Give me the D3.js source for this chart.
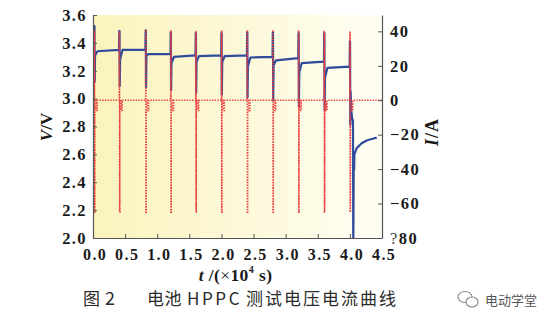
<!DOCTYPE html>
<html><head><meta charset="utf-8">
<script src="https://cdn.jsdelivr.net/npm/d3@7"></script>
<style>
html,body{margin:0;padding:0;background:#fff;}
svg{display:block;}
</style></head>
<body>
<svg id="chart" width="554" height="324"></svg>
<script>
// ---- data ----
const xTicks = [0.0,0.5,1.0,1.5,2.0,2.5,3.0,3.5,4.0,4.5];
const vTicks = [2.0,2.2,2.4,2.6,2.8,3.0,3.2,3.4,3.6];
const iTicks = [40,20,0,-20,-40,-60,-80];
const iTickLabels = ["40","20","0","\u221220","\u221240","\u221260","?80"];

// HPPC pulse times (x10^4 s)
const pulseTimes = [0.02,0.41,0.82,1.21,1.60,2.00,2.40,2.80,3.20,3.60,4.00];
// voltage at each pulse
const vPeak   = [3.52,3.485,3.49,3.475,3.47,3.47,3.475,3.475,3.47,3.47,3.41];
const vTrough = [3.12,3.09,3.08,3.06,3.04,3.03,3.01,2.99,2.94,2.92,2.81];
const vDip    = [3.31,3.28,3.31,3.255,3.265,3.26,3.23,3.24,3.19,3.15];
const vRestStart = [3.34,3.35,3.32,3.30,3.305,3.305,3.295,3.275,3.255,3.22];
const vRestEnd   = [3.35,3.35,3.32,3.31,3.31,3.31,3.30,3.29,3.265,3.23];
const vInitial = 3.30;
// final discharge and recovery
const tailT = [4.012,4.02,4.035,4.048,4.053,4.060,4.066,4.070,4.106,4.184,4.262,4.34,4.418];
const tailV = [3.05,2.92,2.86,2.84,1.90,2.575,2.49,2.60,2.645,2.68,2.70,2.71,2.72];

// current pulses (A)
const iCharge = [40,40,40,40,40,40,40,40,40,40,40];
const iDischarge = [-65,-65,-65,-65,-65,-65,-65,-65,-65,-65,-65];
const iSmall = [-6,-6,-6,-6,-6,-6,-6,-6,-6,-6,-6];

// ---- layout ----
const L = 93, R = 382, T = 15, B = 238;
const svg = d3.select("#chart");
const x = d3.scaleLinear().domain([0,4.5]).range([L,R]);
const yV = d3.scaleLinear().domain([2.0,3.6]).range([B,T]);
const yI = d3.scaleLinear().domain([-80,49.5]).range([B,T]);

// background gradient
const defs = svg.append("defs");
const grad = defs.append("linearGradient").attr("id","bg").attr("x1","0").attr("x2","1").attr("y1","0").attr("y2","0");
grad.append("stop").attr("offset","0").attr("stop-color","#fbf3bc");
grad.append("stop").attr("offset","0.5").attr("stop-color","#fdf8d8");
grad.append("stop").attr("offset","1").attr("stop-color","#fffef4");
defs.append("clipPath").attr("id","clip").append("rect").attr("x",L).attr("y",T).attr("width",R-L).attr("height",B-T);

svg.append("rect").attr("x",L).attr("y",T).attr("width",R-L).attr("height",B-T).attr("fill","url(#bg)");

// ---- build voltage series ----
const vPts = [[0, vInitial]];
pulseTimes.forEach((t0,i)=>{
  const prev = i===0 ? vInitial : vRestEnd[i-1];
  vPts.push([t0-0.004, prev]);
  vPts.push([t0, vPeak[i]]);
  vPts.push([t0+0.003, vPeak[i]]);
  vPts.push([t0+0.006, vTrough[i]]);
  if (i < vDip.length) {
    vPts.push([t0+0.012, vDip[i]]);
    vPts.push([t0+0.05, vRestStart[i]]);
    vPts.push([pulseTimes[i+1]-0.006, vRestEnd[i]]);
  }
});
tailT.forEach((t,i)=>vPts.push([t, tailV[i]]));

// ---- build current series ----
const iPts = [[0,0]];
pulseTimes.forEach((t0,i)=>{
  iPts.push([t0,0],[t0,iCharge[i]],[t0+0.004,iCharge[i]],[t0+0.004,iDischarge[i]],
            [t0+0.008,iDischarge[i]],[t0+0.008,0],[t0+0.03,0],[t0+0.03,iSmall[i]],
            [t0+0.045,iSmall[i]],[t0+0.045,0]);
});
iPts.push([4.5,0]);

const plot = svg.append("g").attr("clip-path","url(#clip)");
plot.append("path").datum(vPts)
  .attr("d", d3.line().x(d=>x(d[0])).y(d=>yV(d[1])))
  .attr("fill","none").attr("stroke","#2f4c9c").attr("stroke-width",2.2).attr("stroke-linejoin","round");
plot.append("path").datum(iPts)
  .attr("d", d3.line().x(d=>x(d[0])).y(d=>yI(d[1])))
  .attr("fill","none").attr("stroke","#e8403f").attr("stroke-width",1.6).attr("stroke-dasharray","1.4,1.3");

// ---- axes ----
const tickFont = "'Liberation Serif','Times New Roman',serif";
function styleAxis(g){
  g.selectAll("path.domain").attr("stroke","#555").attr("stroke-width",1.2);
  g.selectAll(".tick line").attr("stroke","#555").attr("stroke-width",1);
  g.selectAll("text").attr("font-family",tickFont).attr("font-weight","bold")
   .attr("font-size",16.5).attr("fill","#1a1a1a").style("letter-spacing","1.4px");
}
const gL = svg.append("g").attr("transform",`translate(${L},0)`)
  .call(d3.axisLeft(yV).tickValues(vTicks).tickFormat(d3.format(".1f")).tickSize(-4).tickSizeOuter(0).tickPadding(6));
styleAxis(gL);
const gB = svg.append("g").attr("transform",`translate(0,${B})`)
  .call(d3.axisBottom(x).tickValues(xTicks).tickFormat(d3.format(".1f")).tickSize(-4).tickSizeOuter(0).tickPadding(11));
styleAxis(gB);
gB.selectAll(".tick text").attr("dx","0.1em").attr("font-size",16);
const gR = svg.append("g").attr("transform",`translate(${R},0)`)
  .call(d3.axisRight(yI).tickValues(iTicks).tickFormat((d,i)=>iTickLabels[i]).tickSize(-4).tickSizeOuter(0).tickPadding(8));
styleAxis(gR);
gR.selectAll(".tick text").filter((d,i)=>i===6).each(function(){
  const t = d3.select(this); const s = t.text(); t.text("");
  t.append("tspan").attr("font-weight","normal").attr("fill","#444").text(s.slice(0,1));
  t.append("tspan").text(s.slice(1));
});

// ---- axis titles ----
const tx = svg.append("text").attr("x",(L+R)/2-2).attr("y",281).attr("text-anchor","middle")
  .attr("font-family",tickFont).attr("font-weight","bold").attr("font-size",17.5).attr("fill","#1a1a1a")
  .style("letter-spacing","0.4px");
tx.append("tspan").attr("font-style","italic").text("t");
tx.append("tspan").text(" /(");
tx.append("tspan").attr("font-weight","normal").text("\u00d7");
tx.append("tspan").text("10");
tx.append("tspan").attr("font-size",10).attr("dy",-8).text("4");
tx.append("tspan").attr("dy",8).text(" s)");

const tv = svg.append("text").attr("transform","translate(52,127) rotate(-90)").attr("text-anchor","middle")
  .attr("font-family",tickFont).attr("font-weight","bold").attr("font-size",17).attr("fill","#1a1a1a");
tv.append("tspan").attr("font-style","italic").text("V");
tv.append("tspan").text("/V");

const ti = svg.append("text").attr("transform","translate(438,132) rotate(-90)").attr("text-anchor","middle")
  .attr("font-family",tickFont).attr("font-weight","bold").attr("font-size",18).attr("fill","#1a1a1a")
  .style("letter-spacing","1px");
ti.append("tspan").attr("font-style","italic").text("I");
ti.append("tspan").text("/A");

// ---- caption ----
const capFont = "'Noto Sans CJK SC','Noto Sans',sans-serif";
const cap = svg.append("g").attr("font-family",capFont).attr("font-size",17).attr("fill","#2b2b2b");
cap.append("text").attr("x",83).attr("y",305).text("图");
cap.append("text").attr("x",105).attr("y",305).attr("font-size",18).text("2");
cap.append("text").attr("x",147).attr("y",305).style("letter-spacing","0.5px").text("电池");
cap.append("text").attr("x",187).attr("y",305).style("letter-spacing","2.6px").text("HPPC");
cap.append("text").attr("x",246).attr("y",305).style("letter-spacing","2px").text("测试电压电流曲线");

// ---- watermark ----
const wm = svg.append("g").attr("fill","#fff").attr("stroke","#8a8a8a").attr("stroke-width",1.2);
wm.append("ellipse").attr("cx",465).attr("cy",297).attr("rx",7).attr("ry",5.5);
wm.append("ellipse").attr("cx",472).attr("cy",302).attr("rx",6).attr("ry",5);
svg.append("text").attr("x",485).attr("y",305).attr("font-family",capFont).attr("font-size",13)
  .attr("fill","#555").text("电动学堂");
</script>
</body></html>
